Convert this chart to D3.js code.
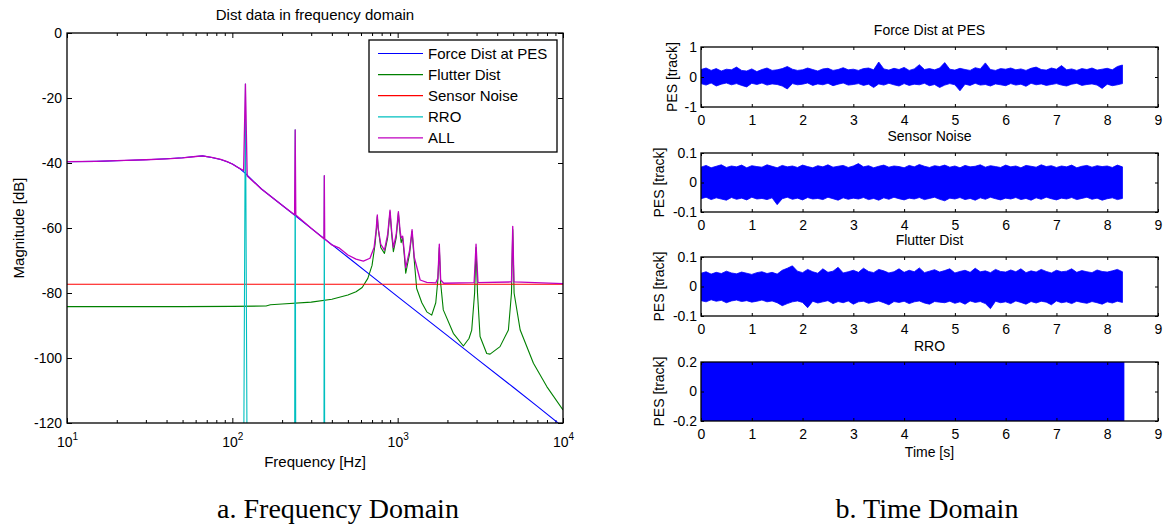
<!DOCTYPE html>
<html>
<head>
<meta charset="utf-8">
<script src="https://cdn.jsdelivr.net/npm/d3@7"></script>
<style>
  body { margin: 0; background: #fff; }
  svg text { fill: #000; }
</style>
</head>
<body>
<svg id="chart" width="1168" height="525"></svg>
<script>
// ---- frequency domain (dB vs Hz) ----
const forceF = [10, 15, 20, 30, 40, 50, 60, 66, 75, 85, 93, 100, 110, 120, 150, 200, 300, 500, 700, 1000, 2000, 3000, 5000, 7000, 10000];
const forceDb = [-39.6, -39.5, -39.3, -39.0, -38.7, -38.4, -38.0, -37.8, -38.3, -38.9, -39.6, -40.3, -41.6, -43.2, -48, -53, -60.1, -69, -74.9, -81.1, -93.1, -100.2, -109, -114.9, -121.2];

const flutterF = [10, 50, 100, 160, 170, 200, 300, 400, 500, 560, 610, 660, 700, 730, 745, 753, 762, 790, 832, 870, 899, 920, 942, 980, 1010, 1035, 1050, 1072, 1095, 1119, 1180, 1222, 1260, 1303, 1400, 1500, 1607, 1700, 1750, 1786, 1820, 1888, 2171, 2497, 2700, 2805, 2920, 2979, 3040, 3150, 3456, 3620, 4160, 4675, 4880, 4966, 5060, 5510, 6625, 7980, 10000];
const flutterDb = [-84.2, -84.2, -84.1, -84.0, -83.6, -83.4, -82.8, -81.9, -80.6, -79.6, -78.3, -75.5, -71.5, -65, -60, -56.5, -60, -66, -67.8, -63, -55, -62, -67.3, -63, -55.5, -62, -64.5, -63, -68, -73.9, -68, -61, -70, -78.6, -83, -85.8, -86.8, -83, -76, -66, -77, -85.2, -92.4, -96.3, -94, -91.4, -80, -66, -80, -93.4, -98.6, -98.8, -96.5, -91.4, -80, -60.5, -80, -91.4, -101.6, -108.8, -116];

const sensorF = [10, 10000];
const sensorDb = [-77.3, -77.3];

const rroF = [117, 120, 123, 238, 240, 242, 358, 360, 362];
const rroDb = [-140, -15.7, -140, -140, -29.8, -140, -140, -43.9, -140];

const allF = [10, 15, 20, 30, 40, 50, 60, 66, 75, 85, 93, 100, 110, 117, 120, 123, 150, 200, 238, 240, 242, 300, 358, 360, 362, 400, 445, 500, 560, 620, 680, 720, 740, 753, 762, 790, 832, 870, 899, 920, 942, 980, 1010, 1035, 1050, 1072, 1095, 1119, 1180, 1222, 1260, 1368, 1500, 1700, 1750, 1786, 1820, 1900, 2900, 2979, 3060, 4880, 4966, 5050, 10000];
const allDb = [-39.6, -39.5, -39.3, -39.0, -38.7, -38.4, -38.0, -37.8, -38.3, -38.9, -39.6, -40.3, -41.6, -42.3, -15.7, -44.0, -48, -53, -55.9, -29.8, -56.0, -60.1, -63.3, -43.9, -63.4, -65.2, -66.2, -68.3, -69.6, -70.2, -69.3, -66, -61, -56, -60, -65, -66.8, -62, -54.5, -61, -66, -62, -55, -61, -63, -62.5, -67, -72.2, -67, -60.5, -69, -76, -76.7, -76.9, -75.5, -65, -76, -77, -76.8, -65, -76.8, -76.6, -59.5, -76.6, -77.1];

const seriesNames = ["Force Dist at PES", "Flutter Dist", "Sensor Noise", "RRO", "ALL"];
const seriesColors = ["#0000ff", "#008000", "#ff0000", "#00bfbf", "#bf00bf"];

const freqTicks = [10, 100, 1000, 10000];
const dbTicks = [-120, -100, -80, -60, -40, -20, 0];

// ---- time domain (PES envelope per 0.1 s bin, 0 .. 8.3 s) ----
const binStep = 0.1;
const forceHi = [0.25,0.3,0.22,0.28,0.2,0.26,0.24,0.33,0.22,0.2,
  0.27,0.18,0.25,0.3,0.22,0.24,0.28,0.35,0.26,0.22,
  0.24,0.3,0.25,0.2,0.27,0.29,0.22,0.25,0.31,0.24,
  0.26,0.22,0.28,0.3,0.24,0.5,0.27,0.23,0.29,0.25,
  0.32,0.22,0.27,0.41,0.25,0.28,0.24,0.3,0.48,0.26,
  0.23,0.29,0.25,0.22,0.31,0.27,0.47,0.25,0.22,0.28,
  0.26,0.3,0.24,0.27,0.22,0.29,0.33,0.25,0.23,0.3,
  0.26,0.38,0.24,0.27,0.22,0.28,0.25,0.3,0.23,0.26,
  0.29,0.24,0.35,0.4];
const forceLo = [-0.22,-0.27,-0.2,-0.3,-0.24,-0.2,-0.26,-0.22,-0.28,-0.33,
  -0.21,-0.25,-0.2,-0.27,-0.23,-0.25,-0.3,-0.4,-0.22,-0.26,
  -0.24,-0.2,-0.28,-0.23,-0.26,-0.21,-0.29,-0.24,-0.2,-0.27,
  -0.25,-0.22,-0.28,-0.24,-0.35,-0.23,-0.27,-0.21,-0.26,-0.3,
  -0.22,-0.28,-0.24,-0.26,-0.21,-0.29,-0.25,-0.35,-0.27,-0.22,
  -0.26,-0.46,-0.24,-0.28,-0.21,-0.27,-0.25,-0.3,-0.23,-0.26,
  -0.29,-0.22,-0.27,-0.24,-0.31,-0.21,-0.26,-0.23,-0.28,-0.25,
  -0.22,-0.27,-0.3,-0.24,-0.21,-0.28,-0.25,-0.23,-0.27,-0.38,
  -0.24,-0.29,-0.26,-0.22];

const sensorHi = [0.052,0.058,0.05,0.055,0.06,0.051,0.056,0.053,0.059,0.05,
  0.057,0.054,0.052,0.06,0.055,0.05,0.058,0.053,0.056,0.051,
  0.059,0.054,0.05,0.057,0.053,0.06,0.052,0.055,0.058,0.051,
  0.056,0.064,0.053,0.057,0.05,0.055,0.059,0.052,0.056,0.054,
  0.05,0.058,0.053,0.061,0.055,0.051,0.057,0.054,0.059,0.052,
  0.056,0.05,0.058,0.053,0.055,0.06,0.052,0.057,0.054,0.051,
  0.059,0.053,0.056,0.05,0.058,0.055,0.052,0.06,0.054,0.057,
  0.051,0.056,0.053,0.059,0.05,0.055,0.058,0.052,0.057,0.054,
  0.056,0.051,0.059,0.053];
const sensorLo = [-0.055,-0.05,-0.058,-0.052,-0.056,-0.06,-0.051,-0.057,-0.053,-0.059,
  -0.05,-0.056,-0.054,-0.058,-0.052,-0.075,-0.055,-0.05,-0.057,-0.053,
  -0.059,-0.051,-0.056,-0.054,-0.058,-0.05,-0.055,-0.06,-0.052,-0.057,
  -0.053,-0.056,-0.051,-0.058,-0.054,-0.06,-0.052,-0.057,-0.05,-0.055,
  -0.059,-0.053,-0.056,-0.051,-0.058,-0.054,-0.05,-0.057,-0.062,-0.053,
  -0.056,-0.051,-0.058,-0.054,-0.06,-0.052,-0.057,-0.05,-0.055,-0.059,
  -0.053,-0.056,-0.051,-0.058,-0.054,-0.06,-0.052,-0.057,-0.05,-0.055,
  -0.059,-0.053,-0.056,-0.051,-0.058,-0.054,-0.05,-0.057,-0.053,-0.06,
  -0.055,-0.052,-0.058,-0.054];

const flutterHi = [0.045,0.05,0.042,0.048,0.044,0.052,0.046,0.043,0.049,0.045,
  0.041,0.047,0.05,0.044,0.048,0.042,0.055,0.062,0.07,0.052,
  0.047,0.058,0.05,0.045,0.06,0.048,0.052,0.065,0.046,0.05,
  0.055,0.048,0.062,0.051,0.047,0.058,0.053,0.046,0.05,0.06,
  0.048,0.055,0.05,0.063,0.047,0.052,0.057,0.049,0.054,0.06,
  0.046,0.051,0.055,0.048,0.062,0.05,0.053,0.047,0.058,0.051,
  0.049,0.056,0.05,0.06,0.047,0.053,0.049,0.058,0.051,0.046,
  0.055,0.05,0.052,0.06,0.048,0.054,0.05,0.047,0.056,0.051,
  0.049,0.053,0.058,0.05];
const flutterLo = [-0.048,-0.052,-0.045,-0.05,-0.047,-0.055,-0.049,-0.046,-0.051,-0.048,
  -0.053,-0.05,-0.046,-0.052,-0.049,-0.055,-0.065,-0.058,-0.052,-0.049,
  -0.054,-0.072,-0.05,-0.056,-0.052,-0.048,-0.058,-0.051,-0.055,-0.049,
  -0.06,-0.052,-0.05,-0.057,-0.053,-0.049,-0.055,-0.062,-0.051,-0.054,
  -0.05,-0.058,-0.052,-0.049,-0.056,-0.06,-0.051,-0.053,-0.055,-0.05,
  -0.057,-0.052,-0.06,-0.049,-0.054,-0.051,-0.058,-0.075,-0.05,-0.055,
  -0.052,-0.058,-0.049,-0.054,-0.06,-0.051,-0.056,-0.05,-0.053,-0.062,
  -0.049,-0.055,-0.052,-0.058,-0.05,-0.054,-0.057,-0.051,-0.055,-0.06,
  -0.052,-0.056,-0.05,-0.054];

const rroT = [0, 8.33];
const rroHi = [0.2, 0.2];
const rroLo = [-0.2, -0.2];

const timeTicks = [0, 1, 2, 3, 4, 5, 6, 7, 8, 9];

const svg = d3.select("#chart");
const SANS = "'Liberation Sans', Arial, sans-serif";
const SERIF = "'Liberation Serif', 'Times New Roman', serif";
const TICK = 14;
const LABEL = 15;

// ===== left: frequency domain =====
const L = { x0: 67, x1: 563, y0: 33, y1: 423 };
const fx = d3.scaleLog().domain([10, 10000]).range([L.x0, L.x1]);
const fy = d3.scaleLinear().domain([-120, 0]).range([L.y1, L.y0]);

svg.append("clipPath").attr("id", "clipL")
  .append("rect").attr("x", L.x0).attr("y", L.y0)
  .attr("width", L.x1 - L.x0).attr("height", L.y1 - L.y0);

const minorF = [10, 100, 1000].flatMap(d => [2, 3, 4, 5, 6, 7, 8, 9].map(k => k * d));

function styleAxis(g) {
  g.select(".domain").remove();
  g.selectAll(".tick line").attr("stroke", "#000");
  g.selectAll(".tick text").attr("font-size", TICK).style("font-family", SANS);
}
const plain = d => String(d);

// bottom major with labels 10^n
svg.append("g").attr("transform", `translate(0,${L.y1})`)
  .call(d3.axisBottom(fx).tickValues(freqTicks).tickSizeInner(-5).tickSizeOuter(0).tickPadding(14))
  .call(styleAxis)
  .call(g => g.selectAll(".tick text").text(null).each(function (d) {
    const t = d3.select(this);
    t.append("tspan").text("10");
    t.append("tspan").attr("dy", "-0.7em").attr("font-size", 10).text(Math.round(Math.log10(d)));
  }));
svg.append("g").attr("transform", `translate(0,${L.y1})`)
  .call(d3.axisBottom(fx).tickValues(minorF).tickSizeInner(-3).tickSizeOuter(0).tickFormat(""))
  .call(styleAxis);
svg.append("g").attr("transform", `translate(0,${L.y0})`)
  .call(d3.axisTop(fx).tickValues(freqTicks).tickSizeInner(-5).tickSizeOuter(0).tickFormat(""))
  .call(styleAxis);
svg.append("g").attr("transform", `translate(0,${L.y0})`)
  .call(d3.axisTop(fx).tickValues(minorF).tickSizeInner(-3).tickSizeOuter(0).tickFormat(""))
  .call(styleAxis);
svg.append("g").attr("transform", `translate(${L.x0},0)`)
  .call(d3.axisLeft(fy).tickValues(dbTicks).tickFormat(plain).tickSizeInner(-5).tickSizeOuter(0).tickPadding(5))
  .call(styleAxis);
svg.append("g").attr("transform", `translate(${L.x1},0)`)
  .call(d3.axisRight(fy).tickValues(dbTicks).tickSizeInner(-5).tickSizeOuter(0).tickFormat(""))
  .call(styleAxis);

const fLine = d3.line().x(d => fx(d[0])).y(d => fy(d[1]));
const freqSeries = [
  d3.zip(forceF, forceDb),
  d3.zip(flutterF, flutterDb),
  d3.zip(sensorF, sensorDb),
  d3.zip(rroF, rroDb),
  d3.zip(allF, allDb)
];
const plotL = svg.append("g").attr("clip-path", "url(#clipL)");
freqSeries.forEach((s, i) => {
  plotL.append("path").datum(s)
    .attr("fill", "none")
    .attr("stroke", seriesColors[i])
    .attr("stroke-width", i === 4 ? 1.3 : 1.1)
    .attr("stroke-linejoin", "round")
    .attr("d", fLine);
});

svg.append("rect").attr("x", L.x0).attr("y", L.y0)
  .attr("width", L.x1 - L.x0).attr("height", L.y1 - L.y0)
  .attr("fill", "none").attr("stroke", "#000").attr("stroke-width", 1.3);

// legend
const leg = svg.append("g").attr("transform", "translate(369,40)");
leg.append("rect").attr("width", 188).attr("height", 112)
  .attr("fill", "#fff").attr("stroke", "#000").attr("stroke-width", 1.3);
seriesNames.forEach((name, i) => {
  const y = 13.5 + i * 21.1;
  leg.append("line").attr("x1", 9).attr("x2", 54).attr("y1", y).attr("y2", y)
    .attr("stroke", seriesColors[i]).attr("stroke-width", 1.2);
  leg.append("text").attr("x", 59).attr("y", y + 5.5).attr("font-size", 15)
    .style("font-family", SANS).text(name);
});

svg.append("text").attr("x", (L.x0 + L.x1) / 2).attr("y", 20)
  .attr("text-anchor", "middle").attr("font-size", LABEL).style("font-family", SANS)
  .text("Dist data in frequency domain");
svg.append("text").attr("x", (L.x0 + L.x1) / 2).attr("y", 467)
  .attr("text-anchor", "middle").attr("font-size", LABEL).style("font-family", SANS)
  .text("Frequency [Hz]");
svg.append("text").attr("transform", `translate(24,${(L.y0 + L.y1) / 2}) rotate(-90)`)
  .attr("text-anchor", "middle").attr("font-size", LABEL).style("font-family", SANS)
  .text("Magnitude [dB]");

// ===== right: time domain =====
const R = { x0: 701, x1: 1158 };
const tx = d3.scaleLinear().domain([0, 9]).range([R.x0, R.x1]);
const binT = d3.range(forceHi.length).map(i => i * binStep);

const panels = [
  { title: "Force Dist at PES", top: 47, bottom: 107, dom: [-1, 1], ticks: [-1, 0, 1], t: binT, hi: forceHi, lo: forceLo, titleY: 35, labelX: 677 },
  { title: "Sensor Noise", top: 153, bottom: 212, dom: [-0.1, 0.1], ticks: [-0.1, 0, 0.1], t: binT, hi: sensorHi, lo: sensorLo, titleY: 141, labelX: 664 },
  { title: "Flutter Dist", top: 257, bottom: 316, dom: [-0.1, 0.1], ticks: [-0.1, 0, 0.1], t: binT, hi: flutterHi, lo: flutterLo, titleY: 245, labelX: 664 },
  { title: "RRO", top: 362, bottom: 421, dom: [-0.2, 0.2], ticks: [-0.2, 0, 0.2], t: rroT, hi: rroHi, lo: rroLo, titleY: 351, labelX: 664 }
];

panels.forEach((p, k) => {
  const py = d3.scaleLinear().domain(p.dom).range([p.bottom, p.top]);
  const id = "clipR" + k;
  svg.append("clipPath").attr("id", id)
    .append("rect").attr("x", R.x0).attr("y", p.top)
    .attr("width", R.x1 - R.x0).attr("height", p.bottom - p.top);

  const band = d3.area()
    .x((d, i) => tx(p.t[i]))
    .y0((d, i) => py(p.lo[i]))
    .y1((d, i) => py(p.hi[i]));
  svg.append("g").attr("clip-path", `url(#${id})`)
    .append("path").datum(p.hi)
    .attr("fill", "#0000ff").attr("stroke", "#0000ff").attr("stroke-width", 0.8)
    .attr("d", band);

  svg.append("g").attr("transform", `translate(0,${p.bottom})`)
    .call(d3.axisBottom(tx).tickValues(timeTicks).tickSizeInner(-3).tickSizeOuter(0).tickPadding(8))
    .call(styleAxis);
  svg.append("g").attr("transform", `translate(0,${p.top})`)
    .call(d3.axisTop(tx).tickValues(timeTicks).tickSizeInner(-3).tickSizeOuter(0).tickFormat(""))
    .call(styleAxis);
  svg.append("g").attr("transform", `translate(${R.x0},0)`)
    .call(d3.axisLeft(py).tickValues(p.ticks).tickFormat(plain).tickSizeInner(-3).tickSizeOuter(0).tickPadding(4))
    .call(styleAxis);
  svg.append("g").attr("transform", `translate(${R.x1},0)`)
    .call(d3.axisRight(py).tickValues(p.ticks).tickSizeInner(-3).tickSizeOuter(0).tickFormat(""))
    .call(styleAxis);

  svg.append("rect").attr("x", R.x0).attr("y", p.top)
    .attr("width", R.x1 - R.x0).attr("height", p.bottom - p.top)
    .attr("fill", "none").attr("stroke", "#000").attr("stroke-width", 1.3);

  svg.append("text").attr("x", (R.x0 + R.x1) / 2).attr("y", p.titleY)
    .attr("text-anchor", "middle").attr("font-size", TICK).style("font-family", SANS).text(p.title);
  svg.append("text").attr("transform", `translate(${p.labelX},${(p.top + p.bottom) / 2}) rotate(-90)`)
    .attr("text-anchor", "middle").attr("font-size", TICK).style("font-family", SANS).text("PES [track]");
});

svg.append("text").attr("x", (R.x0 + R.x1) / 2).attr("y", 457)
  .attr("text-anchor", "middle").attr("font-size", TICK).style("font-family", SANS).text("Time [s]");

// captions
svg.append("text").attr("x", 338).attr("y", 518).attr("text-anchor", "middle")
  .style("font-family", SERIF).attr("font-size", 28)
  .text("a. Frequency Domain");
svg.append("text").attr("x", 927).attr("y", 518).attr("text-anchor", "middle")
  .style("font-family", SERIF).attr("font-size", 28)
  .text("b. Time Domain");
</script>
</body>
</html>
